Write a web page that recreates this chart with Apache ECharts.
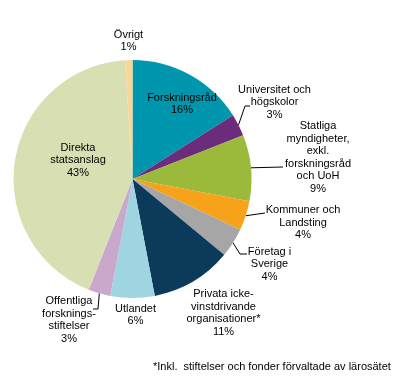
<!DOCTYPE html>
<html><head><meta charset="utf-8">
<script src="https://cdn.jsdelivr.net/npm/echarts@6/dist/echarts.min.js"></script>
<style>html,body{margin:0;padding:0;background:#fff}#c{width:406px;height:382px}</style>
</head><body><div id="c"></div>
<script>
const categories = ['Forskningsråd','Universitet och\nhögskolor','Statliga\nmyndigheter,\nexkl.\nforskningsråd\noch UoH','Kommuner och\nLandsting','Företag i\nSverige','Privata icke-\nvinstdrivande\norganisationer*','Utlandet','Offentliga\nforsknings-\nstiftelser','Direkta\nstatsanslag','Övrigt'];
const values = [16, 3, 9, 4, 4, 11, 6, 3, 43, 1];
const colors = ['#0096AE','#6B2C7C','#9BBA3C','#F7A21B','#A6A6A6','#0C3A5B','#9FD5E0','#C9A8CB','#D8E0B3','#F9D79B'];
const footnote = '*Inkl.  stiftelser och fonder förvaltade av lärosätet';

// label placement (layout only)
const labelCenters = [[182,104],[274.5,102],[318,157.5],[303,222.5],[269.5,264],[223.5,313],[135.5,315],[69,320],[78,160],[128.5,41]];
const leaderElbows = {1:[[245,106],[250,106]], 2:[[283,167]], 3:[[265,213]], 4:[[240,254],[247,254]], 7:[[98,309],[93,309]]};

const chart = echarts.init(document.getElementById('c'), null, {renderer:'canvas'});
const data = categories.map((n,i)=>({
  name:n, value:values[i],
  itemStyle:{color:colors[i]},
  labelLine:{show: !!leaderElbows[i]}
}));
chart.setOption({
  animation:false,
  series:[{
    type:'pie',
    center:[132.5,179],
    radius:119,
    startAngle:90,
    clockwise:true,
    avoidLabelOverlap:false,
    percentPrecision:0,
    data:data,
    label:{
      show:true, position:'outside',
      formatter:'{b}\n{d}%',
      fontFamily:'Liberation Sans, Arial, sans-serif',
      fontSize:11, lineHeight:12.5, color:'#000',
      align:'center'
    },
    labelLine:{lineStyle:{color:'#000',width:1}, length:5, length2:5, smooth:false},
    labelLayout:function(p){
      const i = p.dataIndex;
      const c = labelCenters[i];
      const o = {x:c[0], y:c[1], align:'center', verticalAlign:'middle'};
      if (leaderElbows[i] && p.labelLinePoints) {
        o.labelLinePoints = [p.labelLinePoints[0]].concat(leaderElbows[i]);
      }
      return o;
    },
    emphasis:{disabled:true}
  }],
  graphic:[{
    type:'text', left:153, top:361,
    style:{text:footnote, font:'11px "Liberation Sans", Arial, sans-serif', fill:'#000'}
  }]
});
</script></body></html>
